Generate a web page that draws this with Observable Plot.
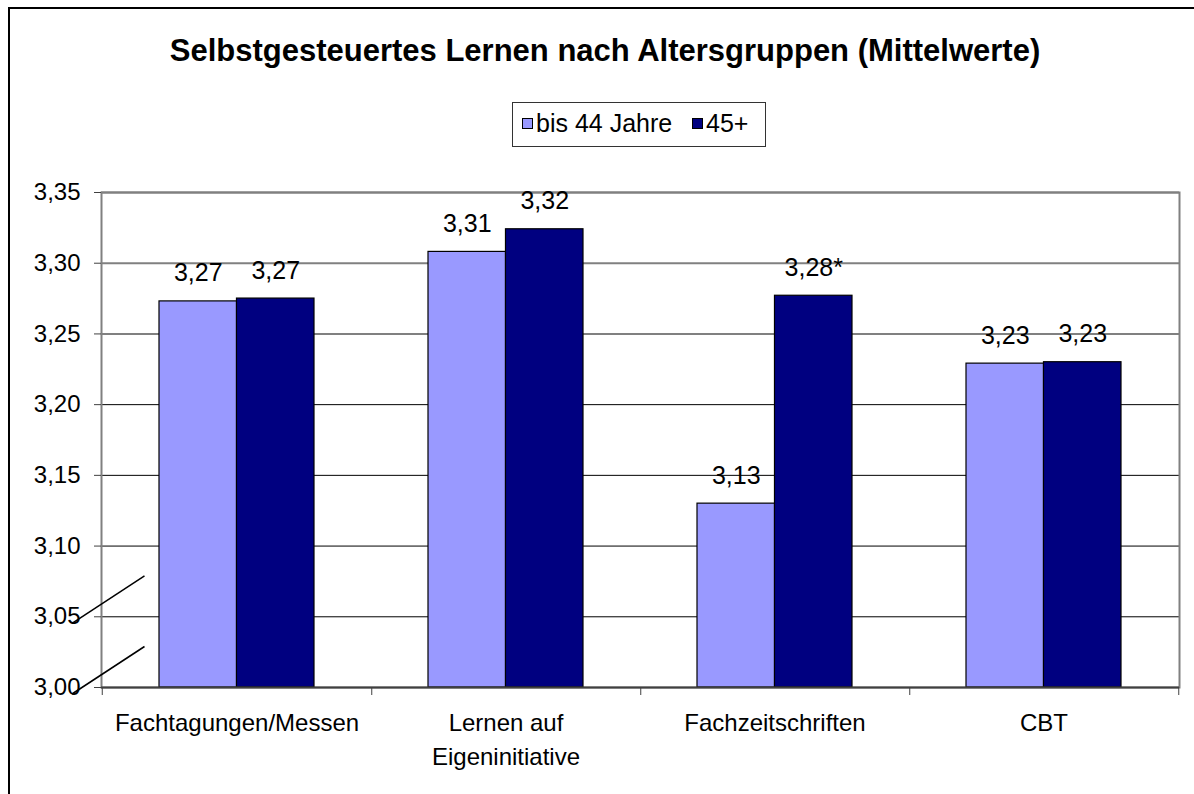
<!DOCTYPE html>
<html>
<head>
<meta charset="utf-8">
<script src="https://cdn.jsdelivr.net/npm/d3@7"></script>
<script src="https://cdn.jsdelivr.net/npm/@observablehq/plot@0.6"></script>
<style>
  html, body { margin: 0; padding: 0; background: #fff; overflow: hidden; }
  #wrap { position: relative; width: 1194px; height: 794px; overflow: hidden; font-family: "Liberation Sans", Arial, sans-serif; color: #000; }
  #frame { position: absolute; left: 8px; top: 7px; width: 1400px; height: 1000px; border-top: 2px solid #000; border-left: 2px solid #000; }
  #header { position: relative; height: 170px; }
  #title { position: absolute; left: 105px; width: 1000px; top: 35px; text-align: center; font-size: 31px; line-height: 31px; font-weight: bold; white-space: nowrap; }
  #legend { position: absolute; left: 512px; top: 102px; width: 254px; height: 45px; box-sizing: border-box; border: 1px solid #333; background: #fff; }
  .sw { position: absolute; top: 15px; width: 11px; height: 11px; box-sizing: border-box; border: 1px solid #000; }
  .lt { position: absolute; top: 8px; font-size: 25px; line-height: 25px; white-space: nowrap; }
  #chart svg { display: block; }
</style>
</head>
<body>
<div id="wrap">
  <div id="frame"></div>
  <div id="header">
    <div id="title"></div>
    <div id="legend"></div>
  </div>
  <div id="chart"></div>
</div>
<script>
const title = "Selbstgesteuertes Lernen nach Altersgruppen (Mittelwerte)";
const categories = ["Fachtagungen/Messen", "Lernen auf\nEigeninitiative", "Fachzeitschriften", "CBT"];
const series = ["bis 44 Jahre", "45+"];
const colors = ["#9999FF", "#000080"];
const young = [3.273, 3.308, 3.130, 3.229];
const older = [3.275, 3.324, 3.277, 3.230];
const youngMarks = ["", "", "", ""];
const olderMarks = ["", "", "*", ""];
const yTicks = [3.00, 3.05, 3.10, 3.15, 3.20, 3.25, 3.30, 3.35];
const breakAt = [3.05, 3.00];

document.getElementById("title").textContent = title;
const legend = document.getElementById("legend");
const swLeft = [9, 179], txLeft = [23, 193];
series.forEach((s, i) => {
  const sw = document.createElement("div");
  sw.className = "sw"; sw.style.left = swLeft[i] + "px"; sw.style.background = colors[i];
  legend.appendChild(sw);
  const t = document.createElement("div");
  t.className = "lt"; t.style.left = txLeft[i] + "px"; t.textContent = s;
  legend.appendChild(t);
});

const W = 1194, H = 624, mL = 101, mR = 15, mT = 22, mB = 107;
const yMin = yTicks[0], yMax = yTicks[yTicks.length - 1];
const step = (W - mL - mR) / categories.length;
const padIn = 0.425;
const bw = step * (1 - padIn);
const fmt = v => d3.format(".2f")(v).replace(".", ",");

const rowsY = categories.map((c, i) => ({cat: c, v: young[i], m: youngMarks[i]}));
const rowsO = categories.map((c, i) => ({cat: c, v: older[i], m: olderMarks[i]}));
const gridGray = yTicks.filter(t => t >= 3.25);
const gridBlack = yTicks.filter(t => t > yMin && t < 3.25);

const chart = Plot.plot({
  width: W, height: H,
  marginLeft: mL, marginRight: mR, marginTop: mT, marginBottom: mB,
  style: {fontFamily: "'Liberation Sans', Arial, sans-serif", fontSize: "24px", color: "#000", background: "transparent"},
  x: {domain: categories, paddingInner: padIn, paddingOuter: padIn / 2, axis: null, label: null},
  y: {domain: [yMin, yMax], axis: null, label: null},
  marks: [
    Plot.ruleY(gridBlack, {stroke: "#000", strokeWidth: 1}),
    Plot.ruleY(gridGray, {stroke: "#808080", strokeWidth: 2}),
    Plot.frame({stroke: "#808080", strokeWidth: 2}),
    Plot.barY(rowsY, {x: "cat", y1: yMin, y2: "v", fill: colors[0], stroke: "#000", strokeWidth: 1.2, insetRight: bw / 2}),
    Plot.barY(rowsO, {x: "cat", y1: yMin, y2: "v", fill: colors[1], stroke: "#000", strokeWidth: 1.2, insetLeft: bw / 2}),
    Plot.ruleY([yMin], {stroke: "#404040", strokeWidth: 2}),
    Plot.axisY({ticks: yTicks, tickFormat: fmt, tickSize: 7, tickPadding: 14, fontSize: 24, stroke: "#404040", label: null}),
    Plot.axisX({tickSize: 8, tickFormat: () => "", dx: step / 2, stroke: "#404040", label: null}),
    Plot.axisX({ticks: [categories[0]], tickSize: 8, tickFormat: () => "", dx: -step / 2, stroke: "#404040", label: null}),
    Plot.axisX({tickSize: 0, tickPadding: 20, fontSize: 24, lineHeight: 1.39, label: null}),
    Plot.text(rowsY, {x: "cat", y: "v", text: d => fmt(d.v) + d.m, dx: -bw / 4, dy: -20, lineAnchor: "bottom", fontSize: 25, fill: "#000"}),
    Plot.text(rowsO, {x: "cat", y: "v", text: d => fmt(d.v) + d.m, dx: bw / 4, dy: -20, lineAnchor: "bottom", fontSize: 25, fill: "#000"})
  ]
});
document.getElementById("chart").appendChild(chart);

// axis-break marks on the left axis, positioned via the y scale
const ys = chart.scale("y");
const svg = d3.select(chart);
breakAt.forEach(v => {
  const y = ys.apply(v);
  svg.append("line")
    .attr("x1", mL - 29).attr("y1", y + 7)
    .attr("x2", mL + 43.5).attr("y2", y - 40.5)
    .attr("stroke", "#000").attr("stroke-width", 1.5);
});
</script>
</body>
</html>
